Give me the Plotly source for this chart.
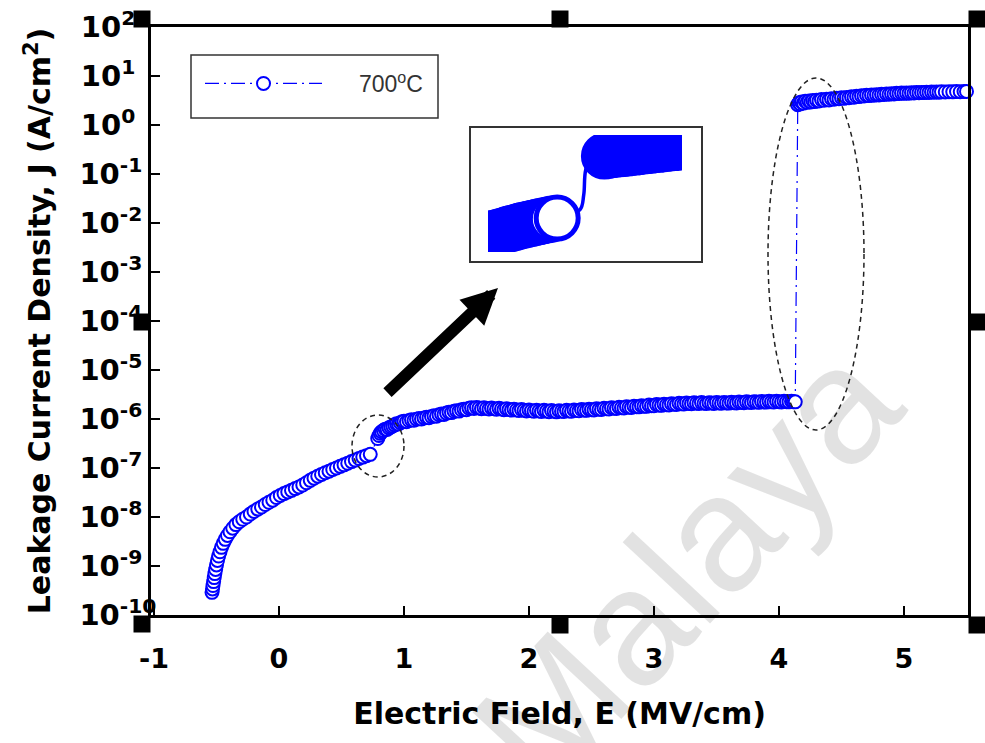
import plotly.graph_objects as go

# ---------------- data ----------------
# low-field branch (E in MV/cm, J in A/cm^2)
E_low = [-0.536, -0.532, -0.528, -0.523, -0.518, -0.513, -0.507, -0.500, -0.492, -0.483,
         -0.472, -0.460, -0.446, -0.430, -0.412, -0.392, -0.370, -0.345, -0.318, -0.290,
         -0.260, -0.230, -0.200, -0.170, -0.140, -0.110, -0.080, -0.050, -0.020, 0.010,
         0.040, 0.070, 0.100, 0.130, 0.160, 0.190, 0.220, 0.250, 0.280, 0.310,
         0.340, 0.370, 0.400, 0.430, 0.460, 0.490, 0.520, 0.550, 0.580, 0.610,
         0.640, 0.670, 0.700, 0.730]
J_low = [2.9e-10, 3.4e-10, 4.0e-10, 4.8e-10, 5.8e-10, 7.0e-10, 8.5e-10, 1.05e-9, 1.3e-9, 1.6e-9,
         1.95e-9, 2.4e-9, 2.9e-9, 3.5e-9, 4.2e-9, 5.0e-9, 5.9e-9, 7.0e-9, 8.0e-9, 9.0e-9,
         1.0e-8, 1.15e-8, 1.3e-8, 1.45e-8, 1.6e-8, 1.8e-8, 2.0e-8, 2.2e-8, 2.5e-8, 2.75e-8,
         3.0e-8, 3.25e-8, 3.5e-8, 3.8e-8, 4.1e-8, 4.5e-8, 5.0e-8, 5.6e-8, 6.2e-8, 6.8e-8,
         7.4e-8, 8.0e-8, 8.6e-8, 9.3e-8, 1.0e-7, 1.08e-7, 1.16e-7, 1.25e-7, 1.35e-7, 1.45e-7,
         1.56e-7, 1.67e-7, 1.78e-7, 1.9e-7]

# mid-field plateau
E_mid = [0.790, 0.800, 0.810, 0.820, 0.835, 0.850, 0.865, 0.880, 0.895, 0.910,
         0.925, 0.940, 0.955, 0.970, 0.985, 1.000, 1.020, 1.040, 1.060, 1.080,
         1.100, 1.120, 1.140, 1.160, 1.180, 1.200, 1.220, 1.240, 1.260, 1.280,
         1.300, 1.320, 1.340, 1.360, 1.380, 1.400, 1.420, 1.440, 1.460, 1.480,
         1.500, 1.520, 1.540, 1.560, 1.580, 1.600, 1.620, 1.640, 1.660, 1.680,
         1.700, 1.720, 1.740, 1.760, 1.780, 1.800, 1.820, 1.840, 1.860, 1.880,
         1.900, 1.920, 1.940, 1.960, 1.980, 2.000, 2.020, 2.040, 2.060, 2.080,
         2.100, 2.120, 2.140, 2.160, 2.180, 2.200, 2.220, 2.240, 2.260, 2.280,
         2.300, 2.320, 2.340, 2.360, 2.380, 2.400, 2.420, 2.440, 2.460, 2.480,
         2.500, 2.520, 2.540, 2.560, 2.580, 2.600, 2.620, 2.640, 2.660, 2.680,
         2.700, 2.720, 2.740, 2.760, 2.780, 2.800, 2.820, 2.840, 2.860, 2.880,
         2.900, 2.920, 2.940, 2.960, 2.980, 3.000, 3.020, 3.040, 3.060, 3.080,
         3.100, 3.120, 3.140, 3.160, 3.180, 3.200, 3.220, 3.240, 3.260, 3.280,
         3.300, 3.320, 3.340, 3.360, 3.380, 3.400, 3.420, 3.440, 3.460, 3.480,
         3.500, 3.520, 3.540, 3.560, 3.580, 3.600, 3.620, 3.640, 3.660, 3.680,
         3.700, 3.720, 3.740, 3.760, 3.780, 3.800, 3.820, 3.840, 3.860, 3.880,
         3.900, 3.920, 3.940, 3.960, 3.980, 4.000, 4.020, 4.040, 4.060, 4.080,
         4.100, 4.115, 4.130]
J_mid = [4.0e-7, 4.6e-7, 5.1e-7, 5.5e-7, 5.8e-7, 6.2e-7, 6.1e-7, 6.6e-7, 6.9e-7, 7.2e-7,
         7.6e-7, 8.0e-7, 7.9e-7, 8.4e-7, 8.8e-7, 9.0e-7, 8.8e-7, 9.3e-7, 9.6e-7, 9.4e-7,
         9.9e-7, 1.02e-6, 1.0e-6, 1.05e-6, 1.08e-6, 1.06e-6, 1.12e-6, 1.16e-6, 1.14e-6, 1.22e-6,
         1.26e-6, 1.24e-6, 1.32e-6, 1.38e-6, 1.35e-6, 1.44e-6, 1.48e-6, 1.45e-6, 1.54e-6, 1.58e-6,
         1.55e-6, 1.66e-6, 1.70e-6, 1.64e-6, 1.72e-6, 1.68e-6, 1.62e-6, 1.70e-6, 1.64e-6, 1.60e-6,
         1.67e-6, 1.62e-6, 1.58e-6, 1.65e-6, 1.60e-6, 1.55e-6, 1.62e-6, 1.56e-6, 1.52e-6, 1.59e-6,
         1.53e-6, 1.49e-6, 1.56e-6, 1.50e-6, 1.46e-6, 1.53e-6, 1.48e-6, 1.44e-6, 1.51e-6, 1.46e-6,
         1.42e-6, 1.50e-6, 1.45e-6, 1.41e-6, 1.49e-6, 1.44e-6, 1.40e-6, 1.48e-6, 1.44e-6, 1.42e-6,
         1.50e-6, 1.46e-6, 1.44e-6, 1.53e-6, 1.49e-6, 1.47e-6, 1.56e-6, 1.52e-6, 1.50e-6, 1.59e-6,
         1.55e-6, 1.53e-6, 1.62e-6, 1.58e-6, 1.57e-6, 1.66e-6, 1.62e-6, 1.60e-6, 1.70e-6, 1.66e-6,
         1.64e-6, 1.74e-6, 1.70e-6, 1.68e-6, 1.78e-6, 1.74e-6, 1.72e-6, 1.83e-6, 1.78e-6, 1.77e-6,
         1.87e-6, 1.83e-6, 1.81e-6, 1.92e-6, 1.87e-6, 1.86e-6, 1.97e-6, 1.92e-6, 1.90e-6, 2.01e-6,
         1.96e-6, 1.94e-6, 2.05e-6, 2.00e-6, 1.98e-6, 2.09e-6, 2.04e-6, 2.02e-6, 2.12e-6, 2.07e-6,
         2.05e-6, 2.15e-6, 2.10e-6, 2.08e-6, 2.16e-6, 2.10e-6, 2.07e-6, 2.15e-6, 2.11e-6, 2.08e-6,
         2.17e-6, 2.12e-6, 2.09e-6, 2.18e-6, 2.13e-6, 2.11e-6, 2.20e-6, 2.15e-6, 2.13e-6, 2.22e-6,
         2.17e-6, 2.15e-6, 2.24e-6, 2.19e-6, 2.17e-6, 2.26e-6, 2.21e-6, 2.19e-6, 2.28e-6, 2.23e-6,
         2.21e-6, 2.29e-6, 2.24e-6, 2.22e-6, 2.30e-6, 2.25e-6, 2.23e-6, 2.31e-6, 2.26e-6, 2.24e-6,
         2.30e-6, 2.26e-6, 2.24e-6]

# high-field branch after breakdown
E_high = [4.150, 4.160, 4.170, 4.180, 4.195, 4.210, 4.225, 4.240, 4.255, 4.270,
          4.285, 4.300, 4.320, 4.340, 4.360, 4.380, 4.400, 4.420, 4.440, 4.460,
          4.480, 4.500, 4.520, 4.540, 4.560, 4.580, 4.600, 4.620, 4.640, 4.660,
          4.680, 4.700, 4.720, 4.740, 4.760, 4.780, 4.800, 4.820, 4.840, 4.860,
          4.880, 4.900, 4.920, 4.940, 4.960, 4.980, 5.000, 5.020, 5.040, 5.060,
          5.080, 5.100, 5.120, 5.140, 5.160, 5.180, 5.200, 5.220, 5.240, 5.260,
          5.280, 5.300, 5.330, 5.360, 5.390, 5.420, 5.450, 5.480, 5.500]
J_high = [2.60, 2.85, 2.70, 2.95, 2.80, 3.05, 2.90, 3.10, 2.95, 3.15,
          3.00, 3.20, 3.10, 3.30, 3.20, 3.35, 3.25, 3.45, 3.35, 3.50,
          3.45, 3.60, 3.50, 3.65, 3.60, 3.75, 3.70, 3.85, 3.80, 3.95,
          3.90, 4.05, 3.98, 4.10, 4.05, 4.15, 4.10, 4.22, 4.18, 4.30,
          4.25, 4.35, 4.30, 4.42, 4.38, 4.48, 4.42, 4.52, 4.47, 4.56,
          4.50, 4.60, 4.55, 4.63, 4.58, 4.66, 4.62, 4.70, 4.65, 4.72,
          4.68, 4.75, 4.72, 4.78, 4.75, 4.80, 4.78, 4.82, 4.85]

# magnified inset around the first jump
inset_E_low = [0.592, 0.598, 0.604, 0.610, 0.616, 0.622, 0.628, 0.634, 0.640, 0.646,
               0.652, 0.658, 0.664, 0.670, 0.676, 0.682, 0.688, 0.694, 0.700, 0.706,
               0.712, 0.718, 0.727]
inset_J_low = [1.26e-7, 1.29e-7, 1.32e-7, 1.35e-7, 1.38e-7, 1.41e-7, 1.44e-7, 1.47e-7, 1.50e-7, 1.53e-7,
               1.57e-7, 1.60e-7, 1.63e-7, 1.67e-7, 1.70e-7, 1.73e-7, 1.76e-7, 1.79e-7, 1.82e-7, 1.85e-7,
               1.88e-7, 1.91e-7, 1.95e-7]
inset_E_link = [0.727, 0.762, 0.768, 0.771, 0.781, 0.800]
inset_J_link = [1.95e-7, 2.29e-7, 3.07e-7, 5.0e-7, 6.76e-7, 6.6e-7]
inset_E_up = [0.800, 0.806, 0.812, 0.818, 0.824, 0.830, 0.836, 0.842, 0.848, 0.854,
              0.860, 0.866, 0.872, 0.878, 0.884, 0.890, 0.896, 0.902, 0.908, 0.914,
              0.920, 0.926, 0.932, 0.938, 0.944, 0.950]
inset_J_up = [6.6e-7, 6.7e-7, 6.8e-7, 6.85e-7, 6.9e-7, 6.95e-7, 7.0e-7, 7.1e-7, 7.15e-7, 7.2e-7,
              7.3e-7, 7.35e-7, 7.4e-7, 7.5e-7, 7.55e-7, 7.6e-7, 7.7e-7, 7.75e-7, 7.8e-7, 7.9e-7,
              7.95e-7, 8.0e-7, 8.1e-7, 8.15e-7, 8.2e-7, 8.3e-7]

x_tick_vals = [-1, 0, 1, 2, 3, 4, 5]
x_tick_text = ["-1", "0", "1", "2", "3", "4", "5"]
y_exponents = [-10, -9, -8, -7, -6, -5, -4, -3, -2, -1, 0, 1, 2]
y_tick_vals = [10.0 ** e for e in y_exponents]

NBSP = "\u00a0"


def y_label(e):
    # labels in the source are left-aligned: pad shorter exponents with invisible spaces
    s = str(e)
    pad = {3: 0, 2: 2}.get(len(s), 3)
    return "10<sup>" + s + NBSP * pad + "</sup>"


y_tick_text = [y_label(e) for e in y_exponents]

series_name = NBSP * 5 + "700<sup>o</sup>C"

# ---------------- layout helpers (pixel -> paper) ----------------
FIG_W, FIG_H = 985, 743
PL, PR, PT, PB = 151, 968, 27, 615


def px(x):
    return (x - PL) / (PR - PL)


def py(y):
    return (PB - y) / (PB - PT)


BLUE = "#0000ff"
AXFONT = "DejaVu Sans"
LEGFONT = "Liberation Sans"

fig = go.Figure()

fig.add_trace(go.Scatter(
    x=E_low + E_mid + E_high, y=J_low + J_mid + J_high,
    mode="lines+markers", name=series_name, showlegend=True,
    line=dict(color=BLUE, width=1.2, dash="14px,5px,2px,5px"),
    marker=dict(symbol="circle", size=13, color="white",
                line=dict(color=BLUE, width=2)),
    cliponaxis=False,
))

# inset traces
inset_marker = dict(symbol="circle", size=42, color="white", line=dict(color=BLUE, width=5))
fig.add_trace(go.Scatter(x=inset_E_link, y=inset_J_link, mode="lines",
                         line=dict(color=BLUE, width=3.5, shape="spline"),
                         xaxis="x2", yaxis="y2", showlegend=False))
fig.add_trace(go.Scatter(x=inset_E_low, y=inset_J_low, mode="markers",
                         marker=inset_marker, xaxis="x2", yaxis="y2", showlegend=False))
fig.add_trace(go.Scatter(x=inset_E_up, y=inset_J_up, mode="markers",
                         marker=inset_marker, xaxis="x2", yaxis="y2", showlegend=False))

shapes = []
# selection handles
for cx, cy in [(142, 19), (560, 19), (977, 19), (142, 322), (977, 322),
               (142, 624), (560, 625), (977, 625)]:
    shapes.append(dict(type="rect", xref="paper", yref="paper",
                       x0=px(cx - 8.5), x1=px(cx + 8.5), y0=py(cy + 8.5), y1=py(cy - 8.5),
                       fillcolor="black", line=dict(width=0), layer="above"))
# legend box
shapes.append(dict(type="rect", xref="paper", yref="paper",
                   x0=px(191), x1=px(438), y0=py(118), y1=py(55),
                   line=dict(color="#333333", width=1.5), layer="above"))
# inset box
shapes.append(dict(type="rect", xref="paper", yref="paper",
                   x0=px(470), x1=px(702), y0=py(262), y1=py(127),
                   line=dict(color="#333333", width=2), layer="above"))
# dashed ellipses
shapes.append(dict(type="circle", xref="paper", yref="paper",
                   x0=px(352), x1=px(404), y0=py(477), y1=py(415),
                   line=dict(color="#222222", width=1.5, dash="5px,4px"), layer="above"))
shapes.append(dict(type="circle", xref="paper", yref="paper",
                   x0=px(768), x1=px(864), y0=py(430), y1=py(78),
                   line=dict(color="#222222", width=1.5, dash="5px,4px"), layer="above"))

annotations = [
    # watermark
    dict(text="Malaya", xref="paper", yref="paper", x=px(686), y=py(566),
         showarrow=False, textangle=-47, xanchor="center", yanchor="middle",
         font=dict(family="Liberation Sans", size=165, color="rgba(0,0,0,0.115)")),
    # arrow pointing at the inset
    dict(text="", xref="paper", yref="paper", x=px(498), y=py(288),
         ax=-112, ay=106, axref="pixel", ayref="pixel",
         showarrow=True, arrowhead=2, arrowsize=0.6, arrowwidth=12, arrowcolor="black"),
]

axis_line = dict(showline=True, linecolor="black", linewidth=2.5, mirror=True,
                 ticks="inside", ticklen=9, tickwidth=2, tickcolor="black",
                 showgrid=False, zeroline=False)

fig.update_layout(
    width=FIG_W, height=FIG_H,
    margin=dict(l=PL, r=FIG_W - PR, t=PT, b=FIG_H - PB, autoexpand=False),
    paper_bgcolor="white", plot_bgcolor="white",
    xaxis=dict(range=[-1.024, 5.512], tickvals=x_tick_vals, ticktext=x_tick_text,
               tickfont=dict(family=AXFONT, size=27, color="black", weight="bold"),
               ticklabelstandoff=18,
               title=dict(text="Electric Field, E (MV/cm)", standoff=30,
                          font=dict(family=AXFONT, size=30, color="black", weight="bold")),
               **axis_line),
    yaxis=dict(type="log", range=[-10, 2], tickvals=y_tick_vals, ticktext=y_tick_text,
               tickfont=dict(family=AXFONT, size=29, color="black", weight="bold"),
               ticklabelstandoff=-14,
               title=dict(text="Leakage Current Density, J (A/cm<sup>2</sup>)", standoff=20,
                          font=dict(family=AXFONT, size=30, color="black", weight="bold")),
               **axis_line),
    xaxis2=dict(domain=[px(488), px(682)], range=[0.62, 0.92], anchor="y2",
                visible=False, showgrid=False, zeroline=False),
    yaxis2=dict(domain=[py(252), py(135)], type="log", range=[-7.0, -6.0], anchor="x2",
                visible=False, showgrid=False, zeroline=False),
    legend=dict(x=px(200), y=py(62), xanchor="left", yanchor="top",
                bgcolor="rgba(0,0,0,0)", borderwidth=0, itemwidth=117,
                font=dict(family=LEGFONT, size=23, color="#333333")),
    shapes=shapes, annotations=annotations,
)

fig.write_html("out.html")
